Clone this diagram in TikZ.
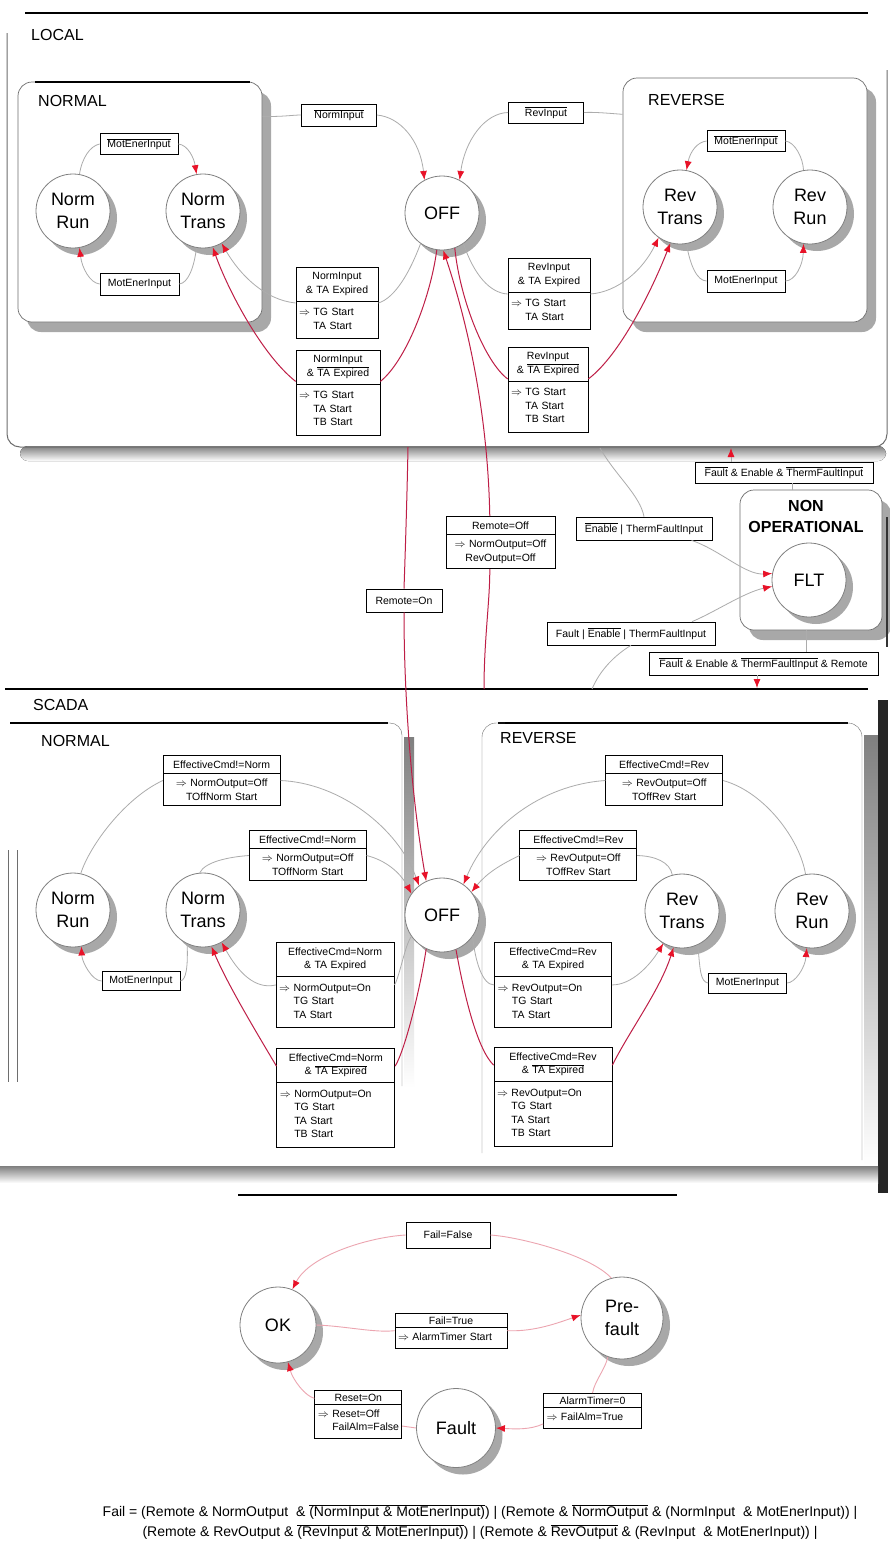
\documentclass[tikz,border=0pt]{standalone}
\usepackage{fontspec}
\setmainfont{Liberation Sans}
\usetikzlibrary{arrows.meta,shapes.multipart,shadows}

\definecolor{wiregray}{RGB}{172,172,172}
\definecolor{wirered}{RGB}{190,30,70}
\definecolor{tipred}{RGB}{232,18,40}
\definecolor{wirepink}{RGB}{236,165,176}
\definecolor{shade}{RGB}{168,168,168}
\definecolor{framegray}{RGB}{110,110,110}

\newcommand\ovl[1]{$\overline{\mbox{#1}}$}
\newcommand\myimp{$\Rightarrow$\ }
\newcommand\myind{\phantom{$\Rightarrow$\ }}
% left-flushed block of action lines inside a box part
\newcommand\lowpart[1]{\noindent\hbox to\hsize{\begin{tabular}{@{}l@{}}#1\end{tabular}\hss}}

\tikzset{
  state/.style={circle, draw=gray, fill=white, line width=0.8pt,
    minimum size=74pt, inner sep=0pt, align=center,
    font=\fontsize{18}{23}\selectfont,
    drop shadow={shadow xshift=7pt, shadow yshift=-7pt, fill=shade, opacity=1}},
  lbl/.style={draw, fill=white, line width=0.7pt, inner sep=2pt,
    minimum height=21pt, font=\fontsize{10.5}{13}\selectfont},
  tbox/.style={rectangle split, rectangle split parts=2, draw, fill=white,
    line width=0.7pt, inner xsep=3pt, inner ysep=5pt, anchor=north,
    font=\fontsize{10.5}{13.5}\selectfont, align=center},
  wire/.style={draw=wiregray, line width=0.8pt},
  rwire/.style={draw=wirered, line width=1pt},
  pwire/.style={draw=wirepink, line width=0.9pt},
  headred/.style={-{Latex[length=9pt,width=7pt,color=tipred]}},
  area/.style={draw=framegray, fill=white, rounded corners=14pt, line width=0.7pt,
    drop shadow={shadow xshift=9pt, shadow yshift=-10pt, fill=shade, opacity=1}},
  sechead/.style={font=\fontsize{16}{18}\selectfont, anchor=west, inner sep=0pt},
  formula/.style={font=\fontsize{14}{16}\selectfont, inner sep=0pt},
}

\begin{document}
\begin{tikzpicture}[x=1pt,y=-1pt]
\fill[white] (0,0) rectangle (890,1542);
\useasboundingbox (0,0) rectangle (890,1542);

% ---------------- LOCAL ----------------
\fill[shade, rounded corners=8pt] (20,446) rectangle (886,461);
\draw[framegray, line width=1pt, rounded corners=13pt] (7,33) -- (7,447) -- (887,447) -- (887,70);
\draw[line width=1.6pt] (25,13) -- (868,13);
\node[sechead] (localt) at (31,35) {LOCAL};

\node[area, minimum width=244pt, minimum height=240pt] (normL) at (140,202) {};
\draw[line width=1.4pt] (35,82) -- (250,82);
\node[sechead] (normLt) at (38,101) {NORMAL};

\node[area, minimum width=244pt, minimum height=244pt] (revL) at (745,200) {};
\node[sechead] (revLt) at (648,100) {REVERSE};

\node[state] (nrunL) at (73,211) {Norm\\Run};
\node[state] (ntransL) at (203,211) {Norm\\Trans};
\node[state] (offL) at (442,213) {OFF};
\node[state] (rtransL) at (680,207) {Rev\\Trans};
\node[state] (rrunL) at (810,207) {Rev\\Run};

\node[lbl, minimum width=78pt] (mtop1) at (139,144) {\ovl{MotEnerInput}};
\node[lbl, minimum width=79pt, minimum height=22pt] (mbot1) at (139.5,284) {MotEnerInput};
\node[lbl, minimum width=75pt, minimum height=22pt] (nin) at (339,115) {\ovl{NormInput}};
\node[lbl, minimum width=75pt] (rin) at (546,112.5) {\ovl{RevInput}};
\node[lbl, minimum width=78pt] (mtop2) at (746,141) {\ovl{MotEnerInput}};
\node[lbl, minimum width=78pt, minimum height=22pt] (mbot2) at (746,281) {MotEnerInput};

\node[tbox, text width=76pt] (bA) at (337,267) {NormInput\\\& TA Expired
  \nodepart{two}\lowpart{\myimp TG Start\\\myind TA Start}};
\node[tbox, text width=78pt] (bB) at (338,350) {NormInput\\\& \ovl{TA Expired}
  \nodepart{two}\lowpart{\myimp TG Start\\\myind TA Start\\\myind TB Start}};
\node[tbox, text width=76pt] (bC) at (549,258) {RevInput\\\& TA Expired
  \nodepart{two}\lowpart{\myimp TG Start\\\myind TA Start}};
\node[tbox, text width=74pt] (bD) at (548,347) {RevInput\\\& \ovl{TA Expired}
  \nodepart{two}\lowpart{\myimp TG Start\\\myind TA Start\\\myind TB Start}};

% transitions inside NORMAL / REVERSE
\draw[wire] (nrunL.80) .. controls (82,158) and (90,146) .. (mtop1.west);
\draw[wire, headred] (mtop1.east) .. controls (188,145) and (194,158) .. (ntransL.100);
\draw[wire] (ntransL.260) .. controls (194,268) and (188,283) .. (mbot1.east);
\draw[wire, headred] (mbot1.west) .. controls (90,283) and (82,268) .. (nrunL.280);
\draw[wire] (rrunL.100) .. controls (803,158) and (795,142) .. (mtop2.east);
\draw[wire, headred] (mtop2.west) .. controls (697,142) and (690,152) .. (rtransL.80);
\draw[wire] (rtransL.280) .. controls (690,265) and (697,281) .. (mbot2.west);
\draw[wire, headred] (mbot2.east) .. controls (795,281) and (803,265) .. (rrunL.260);

% transitions to and from OFF
\draw[wire] (normL.35) .. controls (282,117) and (292,115) .. (nin.west);
\draw[wire, headred] (nin.east) .. controls (400,117) and (420,140) .. (offL.118);
\draw[wire] (revL.145) .. controls (605,113) and (595,112) .. (rin.east);
\draw[wire, headred] (rin.west) .. controls (485,113) and (465,140) .. (offL.62);
\draw[wire] (offL.235) .. controls (410,272) and (395,298) .. (bA.east);
\draw[wire, headred] (bA.west) .. controls (265,300) and (240,275) .. (ntransL.300);
\draw[rwire] (offL.262) .. controls (430,300) and (405,362) .. (bB.15);
\draw[rwire, headred] (bB.165) .. controls (262,355) and (228,290) .. (ntransL.285);
\draw[wire] (offL.305) .. controls (474,275) and (490,293) .. (bC.west);
\draw[wire, headred] (bC.east) .. controls (618,292) and (643,270) .. (rtransL.235);
\draw[rwire] (offL.290) .. controls (460,300) and (485,362) .. (bD.165);
\draw[rwire, headred] (bD.15) .. controls (620,355) and (652,290) .. (rtransL.255);

% ---------------- between LOCAL and SCADA ----------------
\node[lbl, minimum width=76pt, minimum height=23pt] (remOn) at (404,600.5) {Remote=On};
\node[tbox, text width=103pt] (remOff) at (500.5,516) {Remote=Off
  \nodepart{two}\myimp NormOutput=Off\\RevOutput=Off};

\node[area, minimum width=142pt, minimum height=140pt] (nonop) at (811,560) {};
\draw[black!80, line width=1.4pt] (887,517) -- (887,647);
\node[font=\bfseries\fontsize{16}{21}\selectfont, align=center, inner sep=0pt] (nonopt) at (806,516) {NON\\OPERATIONAL};
\node[state] (flt) at (809,580) {FLT};

\node[lbl, minimum width=178pt] (fet1) at (784,472.5) {\ovl{Fault} \& Enable \& \ovl{ThermFaultInput}};
\node[lbl, minimum width=136pt, minimum height=23pt] (enT) at (644,528.5) {\ovl{Enable} | ThermFaultInput};
\node[lbl, minimum width=168pt, minimum height=23pt] (fet2) at (631,633.5) {Fault | \ovl{Enable} | ThermFaultInput};
\node[lbl, minimum width=229pt, minimum height=23pt] (fet3) at (763.5,663.5) {\ovl{Fault} \& Enable \& \ovl{ThermFaultInput} \& Remote};

% ---------------- SCADA ----------------
\draw[shade, line width=2.5pt] (5,689) -- (868,689);
\node[sechead] (scadat) at (33,705) {SCADA};
\draw[line width=1.4pt] (10,723) -- (388,723);
\node[sechead] (normSt) at (41,741) {NORMAL};
\draw[framegray, rounded corners=12pt] (380,723) -- (402,723) -- (402,1086);
\fill[shade] (404,737) rectangle (414,1088);
\draw[framegray] (8,850) -- (8,1082) (17,850) -- (17,1082);

\draw[line width=1.4pt] (498,723) -- (848,723);
\node[sechead] (revSt) at (500,738) {REVERSE};
\draw[framegray, rounded corners=14pt] (482,1153) -- (482,723) -- (505,723);
\draw[framegray, rounded corners=14pt] (840,723) -- (862,723) -- (862,1160);
\fill[shade] (864,735) rectangle (878,1165);
\fill[black!85] (878,700) rectangle (888,1193);

\fill[shade] (0,1166) rectangle (878,1183);
\draw[line width=1.3pt] (238,1195) -- (677,1195);

\node[state] (nrunS) at (73,910) {Norm\\Run};
\node[state] (ntransS) at (203,910) {Norm\\Trans};
\node[state] (offS) at (442,915) {OFF};
\node[state] (rtransS) at (682,911) {Rev\\Trans};
\node[state] (rrunS) at (812,911) {Rev\\Run};

\node[tbox, text width=111pt] (S1) at (221.7,755) {EffectiveCmd!=Norm
  \nodepart{two}\myimp NormOutput=Off\\TOffNorm Start};
\node[tbox, text width=111pt] (S2) at (307.7,830) {EffectiveCmd!=Norm
  \nodepart{two}\myimp NormOutput=Off\\TOffNorm Start};
\node[tbox, text width=112pt] (S3) at (335.2,942) {EffectiveCmd=Norm\\\& TA Expired
  \nodepart{two}\lowpart{\myimp NormOutput=On\\\myind TG Start\\\myind TA Start}};
\node[tbox, text width=112pt] (S4) at (335.8,1048) {EffectiveCmd=Norm\\\& \ovl{TA Expired}
  \nodepart{two}\lowpart{\myimp NormOutput=On\\\myind TG Start\\\myind TA Start\\\myind TB Start}};
\node[tbox, text width=111pt] (R1) at (664.2,755) {EffectiveCmd!=Rev
  \nodepart{two}\myimp RevOutput=Off\\TOffRev Start};
\node[tbox, text width=111pt] (R2) at (578.3,830) {EffectiveCmd!=Rev
  \nodepart{two}\myimp RevOutput=Off\\TOffRev Start};
\node[tbox, text width=111pt] (R3) at (553,942) {EffectiveCmd=Rev\\\& TA Expired
  \nodepart{two}\lowpart{\myimp RevOutput=On\\\myind TG Start\\\myind TA Start}};
\node[tbox, text width=112pt] (R4) at (553,1047) {EffectiveCmd=Rev\\\& \ovl{TA Expired}
  \nodepart{two}\lowpart{\myimp RevOutput=On\\\myind TG Start\\\myind TA Start\\\myind TB Start}};
\node[lbl, minimum width=78pt, minimum height=19pt] (mS1) at (141,981) {MotEnerInput};
\node[lbl, minimum width=78pt, minimum height=20pt] (mS2) at (747.5,983) {MotEnerInput};

% remote / local switching
\coordinate (lfRem) at (408,447);
\coordinate (sfRem) at (484,689);
\draw[rwire] (lfRem) .. controls (407,500) and (405,560) .. (remOn.north);
\draw[rwire, headred] (remOn.south) .. controls (404,700) and (412,800) .. (offS.115);
\draw[rwire] (sfRem) .. controls (484,640) and (490,600) .. (remOff.248);
\draw[rwire, headred] (remOff.112) .. controls (488,420) and (470,330) .. (offL.272);

% non operational transitions
\coordinate (lfEn) at (600,448);
\draw[wire] (lfEn) .. controls (615,475) and (640,495) .. (enT.north);
\draw[wire, headred] (enT.346) .. controls (720,550) and (745,575) .. (flt.170);
\coordinate (sfFt) at (592,689);
\draw[wire] (sfFt) .. controls (600,670) and (615,655) .. (fet2.south);
\draw[wire, headred] (fet2.11) .. controls (715,612) and (745,592) .. (flt.190);
\coordinate (nfT) at (792,490);
\coordinate (lfFt) at (731,448);
\draw[wire] (nfT) -- (fet1.south -| nfT);
\draw[wire, headred] (fet1.north -| lfFt) -- (lfFt);
\coordinate (nfB) at (806,630);
\coordinate (sfNo) at (757,688);
\draw[wire] (nfB) -- (fet3.north -| nfB);
\draw[wire, headred] (fet3.south -| sfNo) -- (sfNo);

% SCADA normal side
\draw[wire] (nrunS.78) .. controls (90,845) and (125,798) .. (S1.west);
\draw[wire, headred] (S1.east) .. controls (340,783) and (398,828) .. (offS.128);
\draw[wire] (ntransS.95) .. controls (205,862) and (228,857) .. (S2.west);
\draw[wire, headred] (S2.east) .. controls (385,860) and (400,872) .. (offS.145);
\draw[wire] (offS.215) .. controls (405,945) and (400,975) .. (S3.east);
\draw[wire, headred] (S3.west) .. controls (255,990) and (238,972) .. (ntransS.300);
\draw[rwire] (offS.245) .. controls (420,990) and (405,1050) .. (S4.28);
\draw[rwire, headred] (S4.152) .. controls (255,1030) and (228,985) .. (ntransS.283);
\draw[wire] (ntransS.245) .. controls (188,968) and (186,980) .. (mS1.east);
\draw[wire, headred] (mS1.west) .. controls (92,981) and (82,962) .. (nrunS.283);

% SCADA reverse side
\draw[wire] (rrunS.100) .. controls (800,840) and (765,792) .. (R1.east);
\draw[wire, headred] (R1.west) .. controls (540,785) and (487,828) .. (offS.55);
\draw[wire] (rtransS.105) .. controls (670,862) and (655,856) .. (R2.east);
\draw[wire, headred] (R2.west) .. controls (500,865) and (487,873) .. (offS.38);
\draw[wire] (offS.325) .. controls (475,960) and (482,985) .. (R3.west);
\draw[wire, headred] (R3.east) .. controls (632,985) and (650,965) .. (rtransS.240);
\draw[rwire] (offS.292) .. controls (465,1000) and (478,1050) .. (R4.152);
\draw[rwire, headred] (R4.28) .. controls (630,1030) and (660,990) .. (rtransS.257);
\draw[wire] (rtransS.295) .. controls (700,968) and (700,982) .. (mS2.west);
\draw[wire, headred] (mS2.east) .. controls (795,983) and (805,968) .. (rrunS.262);

% ---------------- fault supervision ----------------
\node[state, minimum size=76pt] (ok) at (278,1325) {OK};
\node[state, minimum size=82pt] (pref) at (622,1318) {Pre-\\fault};
\node[state, minimum size=79pt] (fault) at (456,1428) {Fault};

\node[lbl, minimum width=84pt, minimum height=26pt] (ff) at (448,1235) {Fail=False};
\node[tbox, text width=106pt, inner ysep=3pt] (ft) at (451,1313) {Fail=True
  \nodepart{two}\lowpart{\myimp AlarmTimer Start}};
\node[tbox, text width=81pt, inner ysep=3pt] (rs) at (358.3,1390) {Reset=On
  \nodepart{two}\lowpart{\myimp Reset=Off\\\myind FailAlm=False}};
\node[tbox, text width=92pt, inner ysep=3pt] (at) at (592.5,1393) {AlarmTimer=0
  \nodepart{two}\lowpart{\myimp FailAlm=True}};

\draw[pwire] (pref.105) .. controls (590,1255) and (520,1237) .. (ff.east);
\draw[pwire, headred] (ff.west) .. controls (370,1237) and (310,1255) .. (ok.68);
\draw[pwire] (ok.east) .. controls (345,1326) and (375,1333) .. (ft.west);
\draw[pwire, headred] (ft.east) .. controls (535,1332) and (560,1322) .. (pref.176);
\draw[pwire] (pref.250) .. controls (605,1370) and (595,1380) .. (at.north);
\draw[pwire, headred] (at.195) .. controls (530,1430) and (515,1429) .. (fault.east);
\draw[pwire] (fault.west) -- (rs.345);
\draw[pwire, headred] (rs.160) .. controls (305,1396) and (293,1380) .. (ok.285);

\node[formula] (f1) at (480,1512) {Fail = (Remote \& NormOutput \ \& \ovl{(NormInput \& MotEnerInput)}) | (Remote \& \ovl{NormOutput} \& (NormInput \ \& MotEnerInput)) |};
\node[formula] (f2) at (480,1532) {(Remote \& RevOutput \& \ovl{(RevInput \& MotEnerInput)}) | (Remote \& \ovl{RevOutput} \& (RevInput \ \& MotEnerInput)) |};

\end{tikzpicture}
\end{document}
